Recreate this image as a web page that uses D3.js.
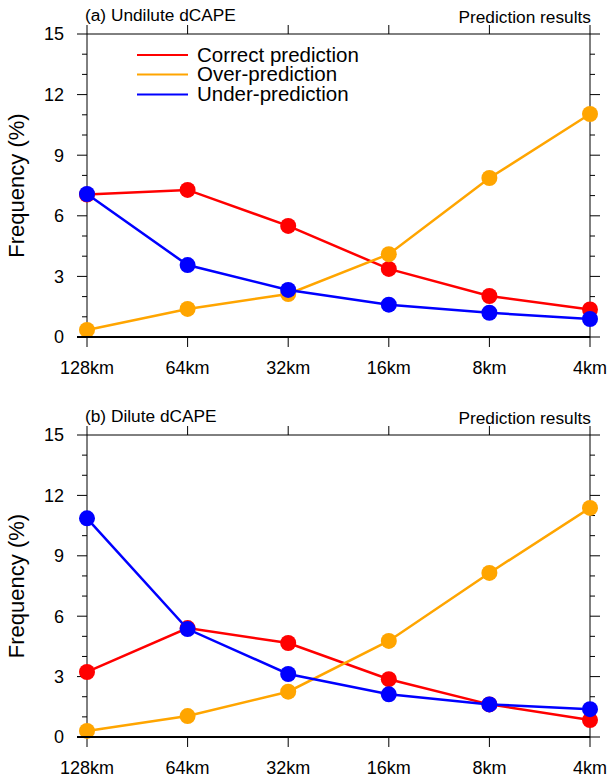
<!DOCTYPE html>
<html>
<head>
<meta charset="utf-8">
<script src="https://cdn.jsdelivr.net/npm/d3@7"></script>
<style>
  body { margin: 0; background: #fff; }
  svg { display: block; font-family: "Liberation Sans", Arial, Helvetica, sans-serif; }
</style>
</head>
<body>
<script>
var width = 607, height = 778;

/** data **/
var resolutions = ["128km", "64km", "32km", "16km", "8km", "4km"];
var yTicks = [0, 3, 6, 9, 12, 15];
var seriesNames = ["Correct prediction", "Over-prediction", "Under-prediction"];
var seriesColors = ["#ff0000", "#ffa500", "#0000ff"];

// (a) Undilute dCAPE
var undiluteCorrect = [7.05, 7.28, 5.5, 3.37, 2.03, 1.36];
var undiluteOver    = [0.35, 1.39, 2.13, 4.1, 7.87, 11.04];
var undiluteUnder   = [7.08, 3.56, 2.33, 1.6, 1.2, 0.89];

// (b) Dilute dCAPE
var diluteCorrect = [3.23, 5.41, 4.67, 2.87, 1.62, 0.84];
var diluteOver    = [0.3, 1.04, 2.25, 4.77, 8.15, 11.38];
var diluteUnder   = [10.86, 5.36, 3.13, 2.12, 1.62, 1.38];

var svg = d3.select("body").append("svg")
    .attr("width", width)
    .attr("height", height);

var left = 87, right = 590;

var x = d3.scalePoint()
    .domain(resolutions)
    .range([left, right]);

function drawPanel(opts) {
    var g = svg.append("g");
    var y = d3.scaleLinear().domain([0, 15]).range([opts.bottom, opts.top]);
    var minor = d3.range(0, 16);

    // frame
    g.append("line").attr("x1", left).attr("x2", right)
        .attr("y1", opts.top).attr("y2", opts.top)
        .attr("stroke", "#000").attr("stroke-width", 1);
    g.append("line").attr("x1", left).attr("x2", left)
        .attr("y1", opts.top).attr("y2", opts.bottom)
        .attr("stroke", "#000").attr("stroke-width", 1);
    g.append("line").attr("x1", right).attr("x2", right)
        .attr("y1", opts.top).attr("y2", opts.bottom)
        .attr("stroke", "#000").attr("stroke-width", 1);

    // y ticks left + right
    minor.forEach(function(v) {
        var len = v % 3 === 0 ? 10 : 5;
        g.append("line").attr("x1", left - len).attr("x2", left)
            .attr("y1", y(v)).attr("y2", y(v))
            .attr("stroke", "#000").attr("stroke-width", 1);
        g.append("line").attr("x1", right).attr("x2", right + len)
            .attr("y1", y(v)).attr("y2", y(v))
            .attr("stroke", "#000").attr("stroke-width", 1);
    });

    g.selectAll(".ylab").data(yTicks).enter().append("text")
        .attr("x", 64)
        .attr("y", d => y(d))
        .attr("dy", "0.36em")
        .attr("text-anchor", "end")
        .attr("font-size", 18)
        .text(d => d);

    // x ticks bottom + top
    resolutions.forEach(function(r) {
        g.append("line").attr("x1", x(r)).attr("x2", x(r))
            .attr("y1", opts.bottom).attr("y2", opts.bottom + 10)
            .attr("stroke", "#000").attr("stroke-width", 1);
        g.append("line").attr("x1", x(r)).attr("x2", x(r))
            .attr("y1", opts.top - 9).attr("y2", opts.top)
            .attr("stroke", "#000").attr("stroke-width", 1);
    });

    g.selectAll(".xlab").data(resolutions).enter().append("text")
        .attr("x", d => x(d))
        .attr("y", opts.bottom + 37)
        .attr("text-anchor", "middle")
        .attr("font-size", 18)
        .text(d => d);

    // series
    var line = d3.line()
        .x((d, i) => x(resolutions[i]))
        .y(d => y(d));

    opts.series.forEach(function(vals, k) {
        g.append("path")
            .datum(vals)
            .attr("d", line)
            .attr("fill", "none")
            .attr("stroke", seriesColors[k])
            .attr("stroke-width", 2.5);
        g.selectAll(".pt" + k).data(vals).enter().append("circle")
            .attr("cx", (d, i) => x(resolutions[i]))
            .attr("cy", d => y(d))
            .attr("r", 8)
            .attr("fill", seriesColors[k]);
    });

    // bottom axis drawn last (thicker)
    g.append("line").attr("x1", left - 10).attr("x2", right)
        .attr("y1", opts.bottom).attr("y2", opts.bottom)
        .attr("stroke", "#000").attr("stroke-width", 2);

    // titles
    g.append("text")
        .attr("x", left - 2)
        .attr("y", opts.top - 13.5)
        .attr("font-size", 17.3)
        .text(opts.title);
    g.append("text")
        .attr("x", right + 1)
        .attr("y", opts.top - 11)
        .attr("text-anchor", "end")
        .attr("font-size", 17.3)
        .text("Prediction results");

    g.append("text")
        .attr("transform", "translate(24," + ((opts.top + opts.bottom) / 2) + ") rotate(-90)")
        .attr("text-anchor", "middle")
        .attr("font-size", 22)
        .text("Frequency (%)");

    if (opts.legend) {
        var rows = [55, 74.5, 94.5];
        seriesNames.forEach(function(name, k) {
            g.append("line").attr("x1", 137).attr("x2", 188)
                .attr("y1", rows[k]).attr("y2", rows[k])
                .attr("stroke", seriesColors[k]).attr("stroke-width", 2);
            g.append("text")
                .attr("x", 197).attr("y", rows[k] + 6.5)
                .attr("font-size", 20.5)
                .text(name);
        });
    }
}

drawPanel({
    top: 34, bottom: 337,
    title: "(a) Undilute dCAPE",
    series: [undiluteCorrect, undiluteOver, undiluteUnder],
    legend: true
});

drawPanel({
    top: 435, bottom: 737,
    title: "(b) Dilute dCAPE",
    series: [diluteCorrect, diluteOver, diluteUnder],
    legend: false
});
</script>
</body>
</html>
